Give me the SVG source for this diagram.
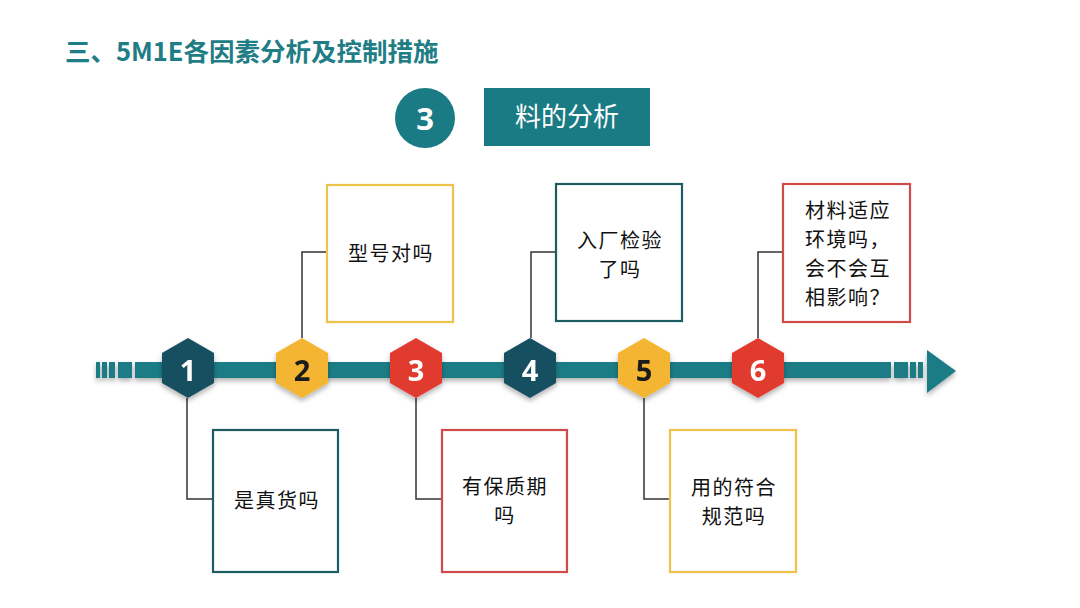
<svg xmlns="http://www.w3.org/2000/svg" width="1080" height="608" viewBox="0 0 1080 608">
<style>
.t{font-family:"Noto Sans CJK SC","Noto Sans",sans-serif;font-size:20px;letter-spacing:1.5px;fill:#111;text-anchor:middle}
.num{font-family:"Open Sans","Liberation Sans",sans-serif;font-weight:700;font-size:29px;text-anchor:middle;dominant-baseline:central}
.box{fill:#fff;stroke-width:2.2}
.bt{stroke:#1d5c63}
.by{stroke:#efc24c}
.br{stroke:#d04a4a}
.con{fill:none;stroke:#333;stroke-width:1.5}
</style>
<defs>
<filter id="sh" x="-30%" y="-30%" width="160%" height="170%">
<feDropShadow dx="0" dy="3" stdDeviation="2.5" flood-color="#000" flood-opacity="0.3"/>
</filter>
<polygon id="hex" points="0,-30 26,-15 26,15 0,30 -26,15 -26,-15"/>
</defs>
<rect width="1080" height="608" fill="#fff"/>
<text x="65" y="61" font-family="'Noto Sans CJK SC','Noto Sans',sans-serif" font-weight="700" font-size="25.5" fill="#1f7d86">三、5M1E各因素分析及控制措施</text>
<g id="header">
<circle cx="425" cy="118" r="30" fill="#1a7b84"/>
<text x="425" y="118" class="num" fill="#fff" style="font-size:31px">3</text>
<rect x="484" y="88" width="166" height="58" fill="#1a7b84"/>
<text x="567" y="126" class="t" style="fill:#fff;font-size:26px;letter-spacing:0">料的分析</text>
</g>
<g id="timeline" fill="#1c7c85" filter="url(#sh)">
<rect x="96" y="362" width="4" height="16"/>
<rect x="102" y="362" width="5" height="16"/>
<rect x="109" y="362" width="6" height="16"/>
<rect x="118" y="362" width="14" height="16"/>
<rect x="135" y="362" width="756" height="16"/>
<rect x="894" y="362" width="14" height="16"/>
<rect x="910" y="362" width="6" height="16"/>
<rect x="918" y="362" width="5" height="16"/>
<polygon points="927,350 956,371 927,393"/>
</g>
<g id="connectors">
<polyline class="con" points="302,338 302,252 327,252"/>
<polyline class="con" points="531,338 531,252 556,252"/>
<polyline class="con" points="758,338 758,252 783,252"/>
<polyline class="con" points="187,398 187,499 213,499"/>
<polyline class="con" points="416,398 416,499 442,499"/>
<polyline class="con" points="644,398 644,499 670,499"/>
</g>
<g id="hex1" filter="url(#sh)"><use href="#hex" x="188" y="368" fill="#174f5e"/><text x="188" y="369" class="num" fill="#fff">1</text></g>
<g id="hex2" filter="url(#sh)"><use href="#hex" x="302" y="368" fill="#f3b531"/><text x="302" y="369" class="num" fill="#1a1a1a">2</text></g>
<g id="hex3" filter="url(#sh)"><use href="#hex" x="416" y="368" fill="#e03a2f"/><text x="416" y="369" class="num" fill="#fff">3</text></g>
<g id="hex4" filter="url(#sh)"><use href="#hex" x="530" y="368" fill="#174f5e"/><text x="530" y="369" class="num" fill="#fff">4</text></g>
<g id="hex5" filter="url(#sh)"><use href="#hex" x="644" y="368" fill="#f3b531"/><text x="644" y="369" class="num" fill="#1a1a1a">5</text></g>
<g id="hex6" filter="url(#sh)"><use href="#hex" x="758" y="368" fill="#e03a2f"/><text x="758" y="369" class="num" fill="#fff">6</text></g>
<g id="box2"><rect x="327" y="185" width="126" height="137" class="box by"/><text x="391" y="260.5" class="t">型号对吗</text></g>
<g id="box4"><rect x="556" y="184" width="126" height="137" class="box bt"/><text class="t"><tspan x="620" y="247.5">入厂检验</tspan><tspan x="620" dy="29">了吗</tspan></text></g>
<g id="box6"><rect x="783" y="184" width="127" height="138" class="box br"/><text class="t"><tspan x="848" y="218">材料适应</tspan><tspan x="848" dy="29">环境吗，</tspan><tspan x="848" dy="29">会不会互</tspan><tspan x="848" dy="29">相影响？</tspan></text></g>
<g id="box1"><rect x="213" y="430" width="125" height="142" class="box bt"/><text x="277" y="507.5" class="t">是真货吗</text></g>
<g id="box3"><rect x="442" y="430" width="125" height="142" class="box br"/><text class="t"><tspan x="505" y="494">有保质期</tspan><tspan x="505" dy="29">吗</tspan></text></g>
<g id="box5"><rect x="670" y="430" width="126" height="142" class="box by"/><text class="t"><tspan x="734" y="494.5">用的符合</tspan><tspan x="734" dy="29">规范吗</tspan></text></g>
</svg>
